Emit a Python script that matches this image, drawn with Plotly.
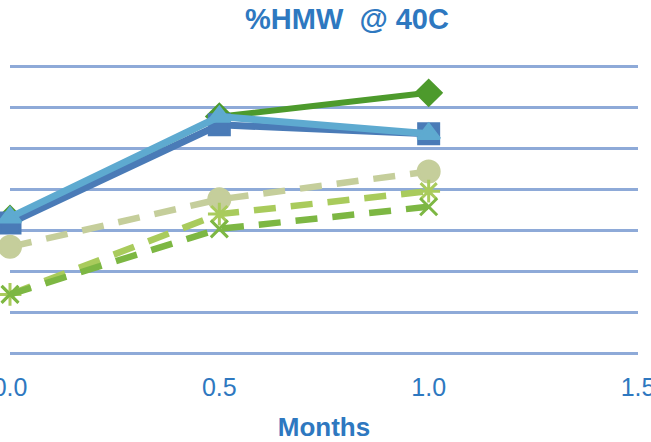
import plotly.graph_objects as go

# Time points (months) and %HMW readings for each lot / condition
months = [0.0, 0.5, 1.0]
lot_a = [1.64, 2.89, 3.18]   # dark green, diamond
lot_b = [1.59, 2.79, 2.68]   # dark blue, square
lot_c = [1.66, 2.89, 2.68]   # light blue, triangle
lot_d = [1.30, 1.88, 2.22]   # khaki dashed, circle
lot_e = [0.72, 1.70, 1.98]   # light green dashed, star
lot_f = [0.72, 1.52, 1.79]   # green dashed, x

x_ticks = [0.0, 0.5, 1.0, 1.5]
x_tick_labels = ["0.0", "0.5", "1.0", "1.5"]

series = [
    dict(y=lot_a, color="#4d9a2c", symbol="diamond", size=19, dash="solid", width=6),
    dict(y=lot_b, color="#4a7bb7", symbol="square", size=20, dash="solid", width=7),
    dict(y=lot_c, color="#5eaad0", symbol="triangle-up", size=19, dash="solid", width=7),
    dict(y=lot_d, color="#c5ce9b", symbol="circle", size=21, dash="22px,15px", width=6.5),
    dict(y=lot_e, color="#a9cb5c", symbol="asterisk-open", size=19, dash="22px,15px", width=6.5),
    dict(y=lot_f, color="#7db743", symbol="x-thin-open", size=17, dash="22px,15px", width=6.5),
]

fig = go.Figure()
for s in series:
    fig.add_trace(go.Scatter(
        x=months, y=s["y"], mode="lines+markers",
        line=dict(color=s["color"], width=s["width"], dash=s["dash"]),
        marker=dict(symbol=s["symbol"], size=s["size"], color=s["color"],
                    line=dict(color=s["color"], width=3)),
        showlegend=False,
        cliponaxis=False,
    ))

blue_text = "#2e78c0"
fig.update_layout(
    width=651, height=442,
    margin=dict(l=10, r=13, t=65, b=87, autoexpand=False),
    paper_bgcolor="white", plot_bgcolor="white",
    title=dict(text="<b>%HMW  @ 40C</b>", x=0.533, xanchor="center",
               y=0.958, yanchor="middle",
               font=dict(family="Liberation Sans, Arial", size=29, color=blue_text)),
    xaxis=dict(range=[0, 1.5], tickvals=x_ticks, ticktext=x_tick_labels,
               showgrid=False, zeroline=False, showline=False, ticks="",
               automargin=False,
               ticklabeloverflow="allow", ticklabelstandoff=15,
               tickfont=dict(family="Liberation Sans, Arial", size=25, color=blue_text),
               title=dict(text="<b>Months</b>", standoff=17,
                          font=dict(family="Liberation Sans, Arial", size=26, color=blue_text))),
    yaxis=dict(range=[-0.02, 3.52], dtick=0.5, tick0=0, showticklabels=False,
               showgrid=True, gridcolor="#8eaad8", gridwidth=2.5, automargin=False,
               zeroline=False, showline=False, ticks=""),
)

fig.write_html("out.html")
